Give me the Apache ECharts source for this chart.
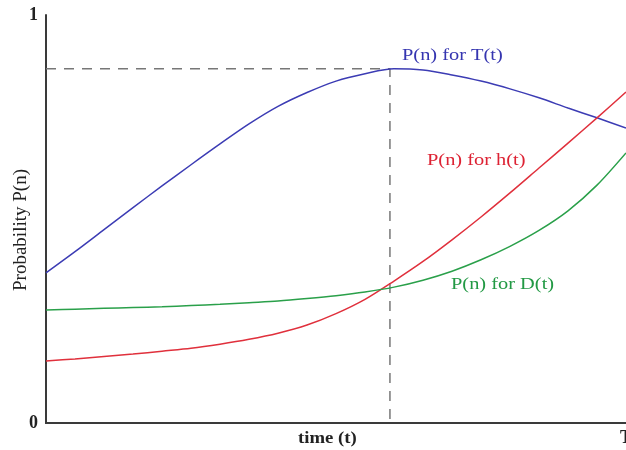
<!DOCTYPE html>
<html>
<head>
<meta charset="utf-8">
<script src="https://cdn.jsdelivr.net/npm/echarts@6/dist/echarts.min.js"></script>
<style>html,body{margin:0;padding:0;background:#fff}#c{width:626px;height:450px}</style>
</head>
<body>
<div id="c"></div>
<script>
// time samples (fraction of T)
const tValues = [0,0.05,0.10,0.15,0.20,0.25,0.30,0.35,0.40,0.45,0.50,0.55,0.60,0.65,0.70,0.75,0.80,0.85,0.90,0.95,1.00];
// P(n) for T(t)
const pT = [0.368,0.420,0.474,0.528,0.581,0.633,0.684,0.733,0.776,0.810,0.838,0.856,0.868,0.865,0.853,0.838,0.819,0.797,0.772,0.748,0.723];
// P(n) for h(t)
const pH = [0.152,0.157,0.163,0.169,0.176,0.183,0.193,0.205,0.220,0.240,0.268,0.303,0.348,0.396,0.449,0.505,0.564,0.625,0.686,0.748,0.811];
// P(n) for D(t)
const pD = [0.277,0.279,0.281,0.283,0.285,0.288,0.291,0.295,0.299,0.305,0.312,0.321,0.333,0.350,0.372,0.400,0.433,0.472,0.520,0.583,0.662];
// peak of P(n) for T(t)
const peakT = 0.593, peakP = 0.868;
const yTicks = ['0','1'];
const xTickLabel = 'T';

const pairs = (ys) => tValues.map((t,i)=>[t, ys[i]]);
const serif = '"Liberation Serif","Times New Roman",serif';

const chart = echarts.init(document.getElementById('c'), null, {renderer:'canvas'});
chart.setOption({
  animation:false,
  grid:{left:46, right:0, top:15, bottom:27, containLabel:false, outerBoundsMode:'none'},
  xAxis:[{
    type:'value', min:0, max:1, interval:1,
    axisLine:{show:true, onZero:false, lineStyle:{color:'#3a3a3a', width:2}},
    axisTick:{show:false}, splitLine:{show:false},
    axisLabel:{formatter:v=>v===1?xTickLabel:'', fontFamily:serif, fontSize:18, fontWeight:'bold', color:'#222', margin:6}
  },{
    type:'value', min:0, max:1, position:'top',
    axisLine:{show:true, lineStyle:{color:'#3a3a3a', width:2}},
    axisTick:{show:false}, splitLine:{show:false}, axisLabel:{show:false}
  }],
  yAxis:{
    type:'value', min:0, max:1, interval:1,
    axisLine:{show:true, lineStyle:{color:'#3a3a3a', width:2}},
    axisTick:{show:false}, splitLine:{show:false},
    axisLabel:{formatter:v=>yTicks[v], fontFamily:serif, fontSize:18, fontWeight:'bold', color:'#222', margin:8}
  },
  series:[
    {type:'line', data:[[0,peakP],[peakT,peakP],[peakT,0]], symbol:'none', silent:true,
     lineStyle:{color:'#777', width:1.5, type:[10,8]}},
    {type:'line', data:pairs(pT), smooth:0.3, symbol:'none', lineStyle:{color:'#3c3cb4', width:1.5}},
    {type:'line', data:pairs(pH), smooth:0.3, symbol:'none', lineStyle:{color:'#e0303c', width:1.5}},
    {type:'line', data:pairs(pD), smooth:0.3, symbol:'none', lineStyle:{color:'#2aa04a', width:1.5}}
  ],
  graphic:[
    {type:'text', x:402, y:47, scaleX:1.2, style:{text:'P(n) for T(t)', font:'17px '+serif, fill:'#3535b0'}},
    {type:'text', x:427, y:152, scaleX:1.2, style:{text:'P(n) for h(t)', font:'17px '+serif, fill:'#dd2233'}},
    {type:'text', x:451, y:276, scaleX:1.2, style:{text:'P(n) for D(t)', font:'17px '+serif, fill:'#229944'}},
    {type:'text', x:298, y:430, scaleX:1.1, style:{text:'time (t)', font:'bold 17px '+serif, fill:'#222'}},
    {type:'text', x:21, y:230, rotation:Math.PI/2, style:{text:'Probability P(n)', font:'19px '+serif, fill:'#222', align:'center', verticalAlign:'middle'}}
  ]
});
</script>
</body>
</html>
